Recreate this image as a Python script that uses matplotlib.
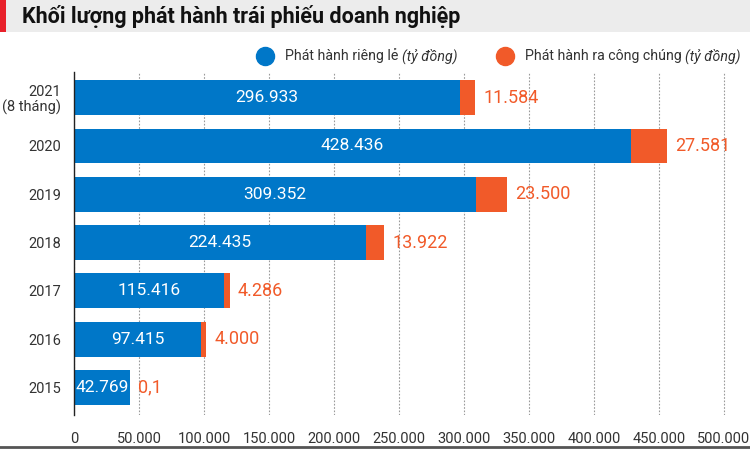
import matplotlib
matplotlib.use("Agg")
import matplotlib.pyplot as plt
from matplotlib.patches import Rectangle
from matplotlib.lines import Line2D

years = ["2015", "2016", "2017", "2018", "2019", "2020", "2021\n(8 tháng)"]
private = [42769, 97415, 115416, 224435, 309352, 428436, 296933]
public = [100, 4000, 4286, 13922, 23500, 27581, 11584]
private_labels = ["42.769", "97.415", "115.416", "224.435", "309.352", "428.436", "296.933"]
public_labels = ["0,1", "4.000", "4.286", "13.922", "23.500", "27.581", "11.584"]
xticks = [0, 50000, 100000, 150000, 200000, 250000, 300000, 350000, 400000, 450000, 500000]
xtick_labels = ["0", "50.000", "100.000", "150.000", "200.000", "250.000", "300.000",
                "350.000", "400.000", "450.000", "500.000"]
title = "Khối lượng phát hành trái phiếu doanh nghiệp"
legend_main = ["Phát hành riêng lẻ ", "Phát hành ra công chúng "]
legend_unit = "(tỷ đồng)"

BLUE = "#0077c8"
ORANGE = "#f15a29"
TXT = "#333333"

plt.rcParams['font.family'] = ['Roboto', 'DejaVu Sans']

fig = plt.figure(figsize=(7.5, 4.51), dpi=100)
fig.patch.set_facecolor("white")

# title strip
fig.add_artist(Rectangle((0, 1 - 32/451), 1, 32/451, transform=fig.transFigure,
                         facecolor="#ececec", edgecolor="none", zorder=0))
fig.add_artist(Rectangle((0, 1 - 32/451), 6/750, 32/451, transform=fig.transFigure,
                         facecolor="#e8202a", edgecolor="none", zorder=1))
fig.text(22/750, 1 - 17/451, title, fontsize=15.5, fontweight="bold", color="#111111",
         va="center", ha="left")
# bottom line
fig.add_artist(Line2D([0, 1], [1 - 447/451, 1 - 447/451], transform=fig.transFigure,
                      color="#555555", lw=2))

ax = fig.add_axes([74/750, 1 - 415/451, (737 - 74)/750, (415 - 72)/451])
ypos = list(range(len(years)))
ax.barh(ypos, private, height=0.72, color=BLUE, edgecolor="none", zorder=3)
ax.barh(ypos, public, left=private, height=0.72, color=ORANGE, edgecolor="none", zorder=3)

for y, p, q, pl, ql in zip(ypos, private, public, private_labels, public_labels):
    ax.text(p / 2, y, pl, ha="center", va="center", color="white", fontsize=12.5, zorder=4)
    ax.annotate(ql, (p + q, y), xytext=(6, 0), textcoords="offset points",
                ha="left", va="center", color=ORANGE, fontsize=13, zorder=4)

ax.set_xlim(0, 510000)
ax.set_ylim(-0.57, 6.53)
ax.set_xticks(xticks)
ax.set_xticklabels(xtick_labels)
ax.set_yticks(ypos)
ax.set_yticklabels(years, fontsize=10.5, color=TXT, linespacing=1.05)
ax.tick_params(axis="both", length=0, colors=TXT)
ax.tick_params(axis="x", labelsize=10.5, pad=12)
ax.tick_params(axis="y", pad=9)
for lbl in ax.get_yticklabels():
    lbl.set_multialignment("right")
ax.grid(axis="x", color="#9a9a9a", linestyle=(0, (1.5, 1.5)), lw=0.8, zorder=0)
for s in ["top", "right", "bottom"]:
    ax.spines[s].set_visible(False)
ax.spines["left"].set_color("#222222")
ax.spines["left"].set_linewidth(1)
ax.spines["left"].set_zorder(5)

# legend
fig.canvas.draw()
renderer = fig.canvas.get_renderer()
ly = 1 - 56/451
for cx, col, main in [(265, BLUE, legend_main[0]), (505, ORANGE, legend_main[1])]:
    fig.add_artist(Line2D([cx/750], [ly], marker="o", markersize=13, color=col,
                          transform=fig.transFigure, lw=0))
    t = fig.text((cx + 20)/750, ly, main, fontsize=10.2, color=TXT, va="center", ha="left")
    bb = t.get_window_extent(renderer)
    fig.text(bb.x1/750, ly, legend_unit, fontsize=10.2, color=TXT, va="center", ha="left",
             style="italic")

fig.savefig("out.png", dpi=100)
